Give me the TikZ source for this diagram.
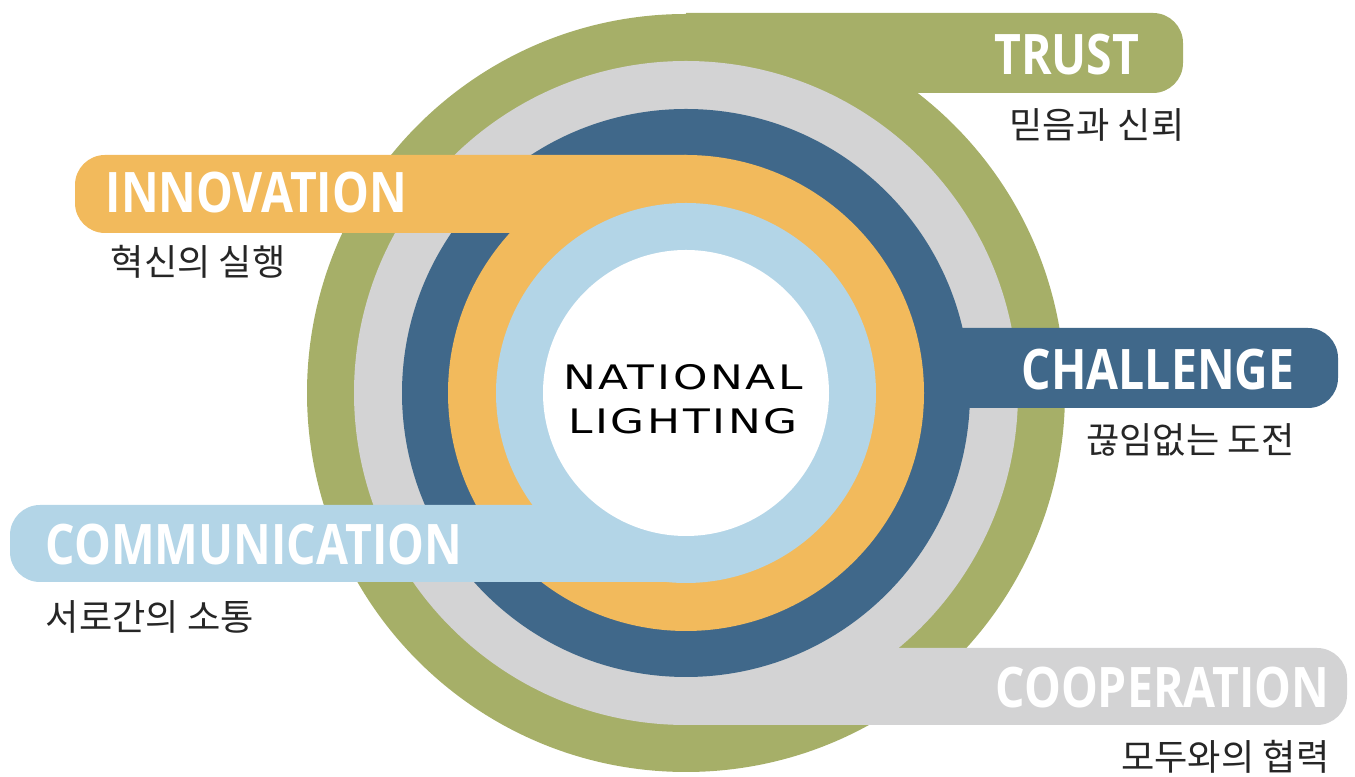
\documentclass[tikz,border=0pt]{standalone}
\usepackage{fontspec}
\usepackage{tikz}
\usetikzlibrary{positioning}
\setmainfont{Open Sans}
\newfontfamily\tabfont[FakeStretch=0.83]{Open Sans}
\newfontfamily\krfont{Noto Sans CJK KR}
\newfontfamily\logofont[FakeStretch=1.3,LetterSpace=8]{DejaVu Sans}
\definecolor{ringGreen}{RGB}{166,175,104}
\definecolor{ringGray}{RGB}{211,211,212}
\definecolor{ringBlue}{RGB}{64,104,138}
\definecolor{ringOrange}{RGB}{242,186,92}
\definecolor{ringLightBlue}{RGB}{179,213,231}

\begin{document}
\begin{tikzpicture}[x=0.1mm,y=-0.1mm]
    \tikzstyle{every node} = [inner sep=0pt]
    \tikzstyle{title} = [font=\tabfont\bfseries\fontsize{15.9}{18}\selectfont, text=white]
    \tikzstyle{subtitle} = [font=\krfont\fontsize{10.3}{12}\selectfont, text=black!85]
    \tikzstyle{logo} = [font=\logofont\fontsize{9.6}{11}\selectfont, text=black]
    \useasboundingbox (0,0) rectangle (1355,777);
    \coordinate (centre) at (686,393);

    % rings and tabs, outermost first (only the free end of a tab is rounded)
    \fill[ringGreen] (centre) circle[radius=37.9mm];
    \fill[ringGreen] (686,93) -- (686,13) [rounded corners=3mm] -- (1183,13) -- (1183,93) [sharp corners] -- (686,93) -- cycle;
    \fill[ringGray] (centre) circle[radius=33.2mm];
    \fill[ringGray] (686,725) -- (686,648) [rounded corners=3mm] -- (1347,648) -- (1347,725) [sharp corners] -- (686,725) -- cycle;
    \fill[ringBlue] (centre) circle[radius=28.4mm];
    \fill[ringBlue] (686,408) -- (686,328) [rounded corners=3mm] -- (1338,328) -- (1338,408) [sharp corners] -- (686,408) -- cycle;
    \fill[ringOrange] (centre) circle[radius=23.8mm];
    \fill[ringOrange] (686,233) -- (686,155) [rounded corners=3mm] -- (75,155) -- (75,233) [sharp corners] -- (686,233) -- cycle;
    \fill[ringLightBlue] (centre) circle[radius=19mm];
    \fill[ringLightBlue] (686,582) -- (686,505) [rounded corners=3mm] -- (10,505) -- (10,582) [sharp corners] -- (686,582) -- cycle;
    \fill[white] (centre) circle[radius=14.3mm];

    % place nodes
    \node[logo] (national) at (683,377) {NATIONAL};
    \node[logo,below=1.7mm of national] (lighting) {LIGHTING};

    \node[title,anchor=east] (trustTitle) at (1140,55) {TRUST};
    \node[subtitle,anchor=east] (trustText) at (1185,125) {믿음과 신뢰};
    \node[title,anchor=west] (innovationTitle) at (105,193) {INNOVATION};
    \node[subtitle,anchor=west] (innovationText) at (110,262) {혁신의 실행};
    \node[title,anchor=east] (challengeTitle) at (1295,370) {CHALLENGE};
    \node[subtitle,anchor=east] (challengeText) at (1295,440) {끊임없는 도전};
    \node[title,anchor=west] (communicationTitle) at (45,545) {COMMUNICATION};
    \node[subtitle,anchor=west] (communicationText) at (45,617) {서로간의 소통};
    \node[title,anchor=east] (cooperationTitle) at (1330,688) {COOPERATION};
    \node[subtitle,anchor=east] (cooperationText) at (1330,757) {모두와의 협력};
\end{tikzpicture}
\end{document}
